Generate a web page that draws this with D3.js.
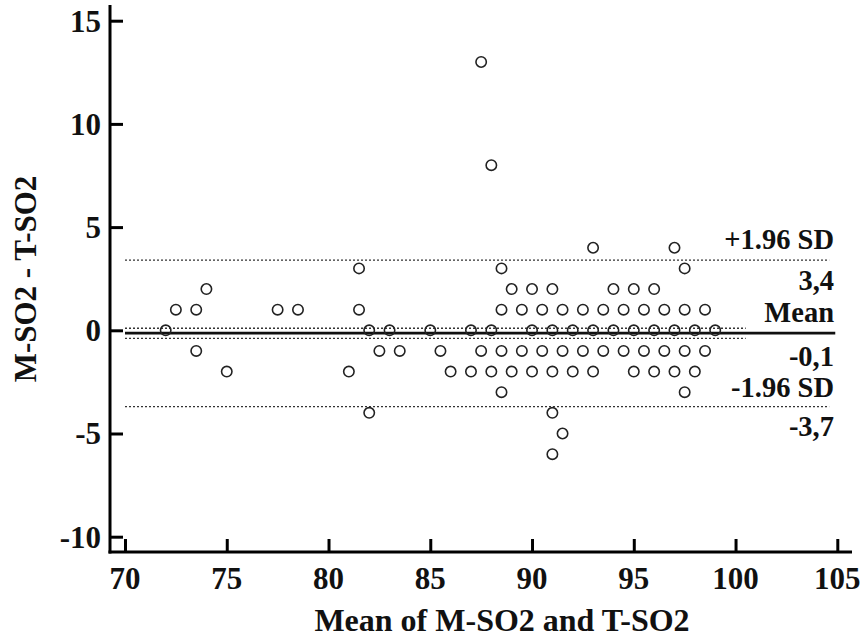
<!DOCTYPE html>
<html lang="en">
<head>
  <meta charset="utf-8">
  <title>Bland-Altman M-SO2 vs T-SO2</title>
  <script src="https://d3js.org/d3.v7.min.js"></script>
  <style>
  body { margin: 0; background: #fff; }
  svg text { font-family: "Liberation Serif", "Times New Roman", serif; font-weight: bold; fill: #111; }
  </style>
</head>
<body>
<div id="chart"></div>
<script>
// mean of the two methods (x) and their difference (y)
var meanVals = [
  87.5,
  88,
  93, 97,
  81.5, 88.5, 97.5,
  74, 89, 90, 91, 94, 95, 96,
  72.5, 73.5, 77.5, 78.5, 81.5, 88.5, 89.5, 90.5, 91.5, 92.5, 93.5, 94.5, 95.5, 96.5, 97.5, 98.5,
  72, 82, 83, 85, 87, 88, 90, 91, 92, 93, 94, 95, 96, 97, 98, 99,
  73.5, 82.5, 83.5, 85.5, 87.5, 88.5, 89.5, 90.5, 91.5, 92.5, 93.5, 94.5, 95.5, 96.5, 97.5, 98.5,
  75, 81, 86, 87, 88, 89, 90, 91, 92, 93, 95, 96, 97, 98,
  88.5, 97.5,
  82, 91,
  91.5,
  91
];
var diffVals = [
  13,
  8,
  4, 4,
  3, 3, 3,
  2, 2, 2, 2, 2, 2, 2,
  1, 1, 1, 1, 1, 1, 1, 1, 1, 1, 1, 1, 1, 1, 1, 1,
  0, 0, 0, 0, 0, 0, 0, 0, 0, 0, 0, 0, 0, 0, 0, 0,
  -1, -1, -1, -1, -1, -1, -1, -1, -1, -1, -1, -1, -1, -1, -1, -1,
  -2, -2, -2, -2, -2, -2, -2, -2, -2, -2, -2, -2, -2, -2,
  -3, -3,
  -4, -4,
  -5,
  -6
];

// agreement statistics
var meanDiff = -0.14;
var ciUpper = 0.1, ciLower = -0.39;
var sdUpper = 3.4, sdLower = -3.7;
var xTicks = [70, 75, 80, 85, 90, 95, 100, 105];
var yTicks = [-10, -5, 0, 5, 10, 15];

var width = 860, height = 643;

var x = d3.scaleLinear().domain([70, 105]).range([125, 837.3]);
var y = d3.scaleLinear().domain([-10, 15]).range([536.7, 20.7]);

var svg = d3.select("#chart").append("svg")
  .attr("width", width)
  .attr("height", height);

// reference lines
var lines = [
  { v: sdUpper, end: 104.6, dash: "2,2", w: 1.3 },
  { v: sdLower, end: 104.6, dash: "2,2", w: 1.3 },
  { v: ciUpper, end: 100.5, dash: "2,2", w: 1.3 },
  { v: ciLower, end: 100.5, dash: "2,2", w: 1.3 },
  { v: meanDiff, end: 104.9, dash: null, w: 2.8 }
];
svg.selectAll("line.ref")
  .data(lines)
  .enter()
  .append("line")
  .attr("class", "ref")
  .attr("x1", x(70))
  .attr("x2", function(d) { return x(d.end); })
  .attr("y1", function(d) { return y(d.v); })
  .attr("y2", function(d) { return y(d.v); })
  .attr("stroke", function(d) { return d.dash ? "#333" : "#111"; })
  .attr("stroke-width", function(d) { return d.w; })
  .attr("stroke-dasharray", function(d) { return d.dash; });

// points
svg.selectAll("circle")
  .data(meanVals)
  .enter()
  .append("circle")
  .attr("cx", function(d) { return x(d); })
  .attr("cy", function(d, i) { return y(diffVals[i]); })
  .attr("r", 5.2)
  .attr("fill", "none")
  .attr("stroke", "#222")
  .attr("stroke-width", 1.6);

// labels on the right
var fmt = function(v) { return v.toFixed(1).replace(".", ","); };
var rightX = 834;
var labels = [
  { t: "+1.96 SD", yy: y(sdUpper) - 11 },
  { t: fmt(sdUpper), yy: y(sdUpper) + 30 },
  { t: "Mean", yy: y(meanDiff) - 11.5 },
  { t: fmt(meanDiff), yy: y(meanDiff) + 33 },
  { t: "-1.96 SD", yy: y(sdLower) - 10 },
  { t: fmt(sdLower), yy: y(sdLower) + 29 }
];
svg.selectAll("text.lab")
  .data(labels)
  .enter()
  .append("text")
  .attr("class", "lab")
  .attr("x", rightX)
  .attr("y", function(d) { return d.yy; })
  .attr("text-anchor", "end")
  .style("font-size", "28.5px")
  .text(function(d) { return d.t; });

// axes: ticks point inwards
var xAxis = svg.append("g")
  .attr("transform", "translate(0," + 552 + ")")
  .call(d3.axisTop(x).tickValues(xTicks).tickSize(13).tickFormat(""));
var yAxis = svg.append("g")
  .attr("transform", "translate(" + 110 + ",0)")
  .call(d3.axisRight(y).tickValues(yTicks).tickSize(13).tickFormat(""));

xAxis.select(".domain").attr("d", "M108.5,0H852");
yAxis.select(".domain").attr("d", "M0,5V553.5");
svg.selectAll(".domain").attr("stroke", "#000").attr("stroke-width", 3);
svg.selectAll(".tick line").attr("stroke", "#000").attr("stroke-width", 3);

svg.selectAll("text.xt")
  .data(xTicks)
  .enter()
  .append("text")
  .attr("class", "xt")
  .attr("x", function(d) { return x(d); })
  .attr("y", 589)
  .attr("text-anchor", "middle")
  .style("font-size", "31px")
  .text(function(d) { return d; });

svg.selectAll("text.yt")
  .data(yTicks)
  .enter()
  .append("text")
  .attr("class", "yt")
  .attr("x", 101)
  .attr("y", function(d) { return y(d); })
  .attr("dy", "0.35em")
  .attr("text-anchor", "end")
  .style("font-size", "31px")
  .text(function(d) { return d; });

// axis titles
svg.append("text")
  .attr("x", 502)
  .attr("y", 631)
  .attr("text-anchor", "middle")
  .style("font-size", "32px")
  .text("Mean of M-SO2 and T-SO2");

svg.append("text")
  .attr("transform", "translate(36,279) rotate(-90)")
  .attr("text-anchor", "middle")
  .style("font-size", "31px")
  .text("M-SO2 - T-SO2");
</script>
</body>
</html>
